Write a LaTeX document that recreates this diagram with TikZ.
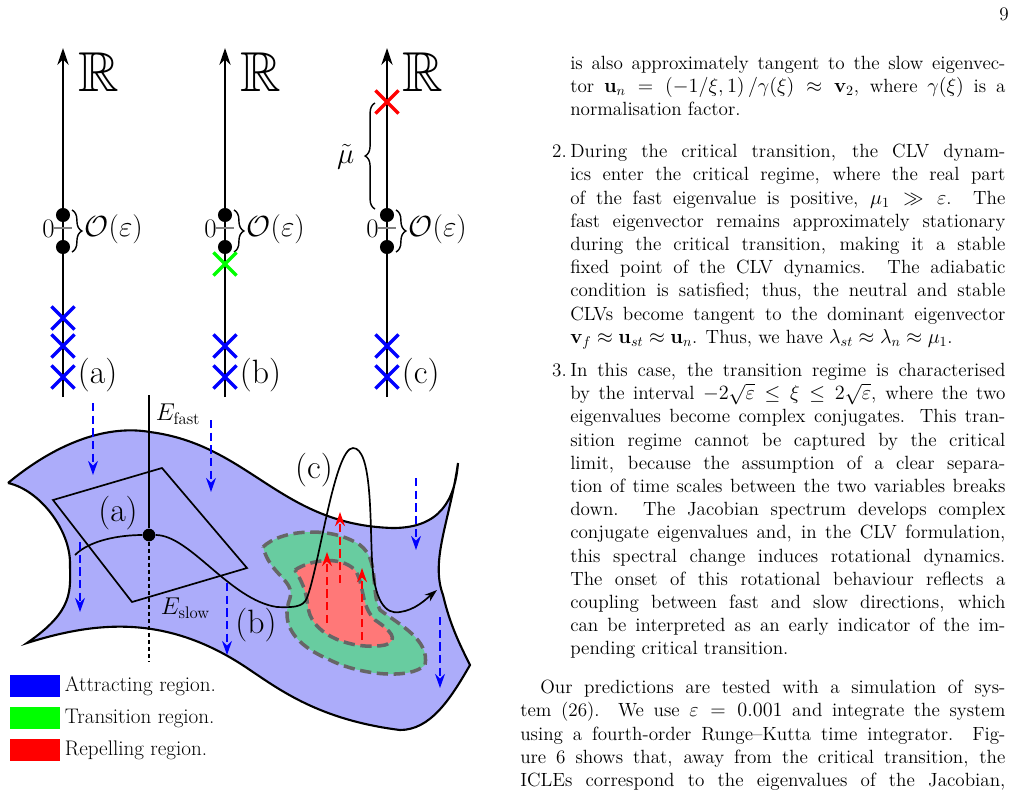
\documentclass[tikz,border=0pt]{standalone}
\usepackage{amsmath}
\usepackage{amssymb}
\usepackage{tikz}
\usetikzlibrary{calc,shapes.misc,decorations.pathreplacing,arrows.meta}
\definecolor{surf}{RGB}{172,172,250}
\definecolor{trans}{RGB}{104,204,160}
\definecolor{repel}{RGB}{255,120,120}
\tikzset{
  % axis and eigenvalue marks
  axis line/.style={line width=1.5pt,-{Stealth[length=12pt,width=8pt]}},
  eig dot/.style={circle,fill=black,inner sep=0,minimum size=10pt},
  eig cross/.style={cross out,draw=#1,line width=2.4pt,inner sep=0,minimum size=14pt},
  curly/.style={decorate,decoration={brace,amplitude=7pt},line width=1pt},
  flow down/.style={blue,dash pattern=on 6pt off 3pt,line width=1.4pt,-{Stealth[length=10pt,width=7pt]}},
  flow up/.style={red,dash pattern=on 6pt off 3pt,line width=1.4pt,-{Stealth[length=10pt,width=7pt]}},
  region/.style={draw=black!60,line width=2.5pt,dash pattern=on 8pt off 4pt},
  para/.style={anchor=north west,inner sep=0,align=justify,font=\fontsize{13.6}{16.5}\selectfont}
}
\begin{document}
\begin{tikzpicture}[x=0.025cm,y=-0.025cm]
  \useasboundingbox (0,0) rectangle (1017,790);
  % three spectra
  \foreach \n/\x in {a/63,b/225,c/387}{
    \draw[axis line] (\x,397) -- (\x,48);
    \node[font=\fontsize{40}{44}\selectfont] (R\n) at (\x+36,72) {$\mathbb{R}$};
    \draw[gray,line width=1.2pt] (\x-9,228) -- (\x+9,228);
    \node[eig dot] (t\n) at (\x,215) {};
    \node[eig dot] (b\n) at (\x,247) {};
    \node[font=\fontsize{19}{22}\selectfont,anchor=east,inner sep=0] (z\n) at (\x-8,229) {0};
    \coordinate (bt\n) at (\x+9,210);
    \coordinate (bb\n) at (\x+9,252);
    \draw[curly] (bt\n) -- (bb\n);
    \node[font=\fontsize{21}{24}\selectfont,anchor=west,inner sep=1pt] (O\n) at (\x+20,229) {$\mathcal{O}(\varepsilon)$};
    \node[eig cross=blue] (x1\n) at (\x,346) {};
    \node[eig cross=blue] (x2\n) at (\x,377) {};
    \node[font=\fontsize{24}{28}\selectfont,anchor=west] (L\n) at (\x+10,375) {(\n)};
  }
  \node[eig cross=blue] (x0a) at (63,318) {};
  \node[eig cross=green] (gb) at (225,264) {};
  \node[eig cross=red] (rc) at (387,102) {};
  \coordinate (mt) at (375,103);
  \coordinate (mb) at (375,209);
  \draw[curly] (mb) -- (mt);
  \node[font=\fontsize{21}{24}\selectfont,anchor=east,inner sep=1pt] (mu) at (356,157) {$\tilde{\mu}$};
  % slow manifold
  \draw[fill=surf,line width=1.5pt] (8,483) .. controls (60,440) and (110,425) .. (150,432)
    .. controls (250,445) and (280,525) .. (393,528)
    .. controls (440,528) and (455,500) .. (458,463)
    .. controls (450,520) and (430,560) .. (443,595)
    .. controls (450,625) and (460,645) .. (470,665)
    .. controls (450,700) and (430,730) .. (400,730)
    .. controls (320,720) and (280,690) .. (250,670)
    .. controls (170,615) and (100,620) .. (27,643)
    .. controls (75,610) and (70,590) .. (70,563)
    .. controls (70,530) and (40,490) .. (8,483);
  % regions
  \draw[region,fill=trans] (263,547) .. controls (280,530) and (330,525) .. (360,545)
    .. controls (380,560) and (370,590) .. (380,610)
    .. controls (400,625) and (430,640) .. (425,665)
    .. controls (410,680) and (360,675) .. (330,660)
    .. controls (295,645) and (280,625) .. (290,598)
    .. controls (295,580) and (270,575) .. (263,547);
  \draw[region,fill=repel] (295,570) .. controls (310,560) and (340,555) .. (355,570)
    .. controls (365,585) and (360,605) .. (375,620)
    .. controls (390,630) and (400,640) .. (385,645)
    .. controls (360,650) and (320,640) .. (310,615)
    .. controls (305,600) and (310,595) .. (295,570);
  % tangent plane
  \draw[line width=1.2pt] (53,500) -- (162,468) -- (247,568) -- (132,602) -- cycle;
  \node[eig dot,minimum size=9pt] (fp) at (149,535) {};
  \coordinate (ft) at (149,395);
  \coordinate (fb) at (149,662);
  \draw[line width=1.2pt] (fp) -- (ft);
  \draw[line width=1.2pt,densely dashed] (fp) -- (fb);
  \node[font=\fontsize{17}{20}\selectfont,anchor=west] (Ef) at (151,414) {$E_{\text{fast}}$};
  \node[font=\fontsize{17}{20}\selectfont,anchor=west] (Es) at (156,608) {$E_{\text{slow}}$};
  % trajectory
  \coordinate (s0) at (75,555);
  \coordinate (s1) at (437,590);
  \draw[line width=1.2pt,-{Stealth[length=9pt,width=6pt]}] (s0) .. controls (90,540) and (120,535) .. (fp)
    .. controls (190,535) and (230,600) .. (277,607)
    .. controls (300,608) and (305,605) .. (308,595)
    .. controls (320,560) and (335,448) .. (353,448)
    .. controls (372,448) and (370,520) .. (372,560)
    .. controls (374,600) and (385,615) .. (400,612)
    .. controls (415,610) and (425,600) .. (s1);
  \node[font=\fontsize{24}{28}\selectfont] (sa) at (118,513) {(a)};
  \node[font=\fontsize{24}{28}\selectfont] (sb) at (256,625) {(b)};
  \node[font=\fontsize{24}{28}\selectfont] (sc) at (314,470) {(c)};
  % flow arrows
  \foreach \x/\ya/\yb in {93/403/475,211/420/492,80/542/612,227/583/655,416/478/550,440/617/688}
    \draw[flow down] (\x,\ya) -- (\x,\yb);
  \foreach \x/\ya/\yb in {327/623/552,340/583/512,362/640/568}
    \draw[flow up] (\x,\ya) -- (\x,\yb);
  % legend
  \foreach \c/\y/\t in {blue/686/Attracting,green/718/Transition,red/750/Repelling}{
    \fill[\c] (10,\y-11) rectangle (60,\y+11);
    \node[anchor=west,font=\fontsize{15}{18}\selectfont] (leg\c) at (60,\y) {\t{} region.};
  }
  % text column
  \node[font=\fontsize{13.6}{16.5}\selectfont] (page) at (1004,14) {9};
  \node[para,text width=10.875cm] (p1) at (570,56) {is also approximately tangent to the slow eigenvec-\linebreak tor $\mathbf{u}_n = (-1/\xi,1)\,/\gamma(\xi) \approx \mathbf{v}_2$, where $\gamma(\xi)$ is a\linebreak normalisation factor.};
  \node[para,anchor=north east] (n2) at (567,144) {2.};
  \node[para,text width=10.875cm] (p2) at (570,144) {During the critical transition, the CLV dynam-\linebreak ics enter the critical regime, where the real part\linebreak of the fast eigenvalue is positive, $\mu_1 \gg \varepsilon$. The\linebreak fast eigenvector remains approximately stationary\linebreak during the critical transition, making it a stable\linebreak fixed point of the CLV dynamics. The adiabatic\linebreak condition is satisfied; thus, the neutral and stable\linebreak CLVs become tangent to the dominant eigenvector\linebreak $\mathbf{v}_f \approx \mathbf{u}_{st} \approx \mathbf{u}_n$. Thus, we have $\lambda_{st} \approx \lambda_n \approx \mu_1$.};
  \node[para,anchor=north east] (n3) at (567,363) {3.};
  \node[para,text width=10.875cm] (p3) at (570,363) {In this case, the transition regime is characterised\linebreak by the interval $-2\sqrt{\varepsilon} \le \xi \le 2\sqrt{\varepsilon}$, where the two\linebreak eigenvalues become complex conjugates. This tran-\linebreak sition regime cannot be captured by the critical\linebreak limit, because the assumption of a clear separa-\linebreak tion of time scales between the two variables breaks\linebreak down. The Jacobian spectrum develops complex\linebreak conjugate eigenvalues and, in the CLV formulation,\linebreak this spectral change induces rotational dynamics.\linebreak The onset of this rotational behaviour reflects a\linebreak coupling between fast and slow directions, which\linebreak can be interpreted as an early indicator of the im-\linebreak pending critical transition.};
  \node[para,text width=12.125cm] (p4) at (520,680) {\parfillskip=0pt\hspace*{0.5cm}Our predictions are tested with a simulation of sys-\linebreak tem (26). We use $\varepsilon = 0.001$ and integrate the system\linebreak using a fourth-order Runge--Kutta time integrator. Fig-\linebreak ure 6 shows that, away from the critical transition, the\linebreak ICLEs correspond to the eigenvalues of the Jacobian,\par};
\end{tikzpicture}
\end{document}
